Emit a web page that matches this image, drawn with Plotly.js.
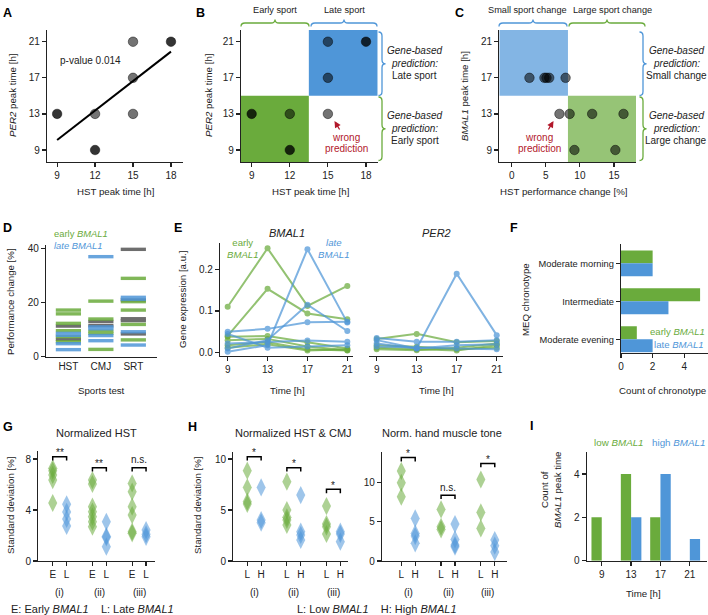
<!DOCTYPE html>
<html><head><meta charset="utf-8">
<script src="https://cdn.plot.ly/plotly-3.0.1.min.js"></script>
<style>html,body{margin:0;padding:0;background:#fff}#chart{width:708px;height:615px}</style>
</head><body><div id="chart"></div>
<script>
// ================= DATA =================
// A / B : peak times (count = overlapping participants)
const hstPeak   = [9, 12, 12, 15, 15, 15, 18];
const per2Peak  = [13, 13, 9, 21, 17, 13, 21];
const peakCount = [2, 1, 2, 1, 1, 1, 2];
const fitX = [9, 18];
const fitY = [10.1, 19.9];
const pValueText = 'p-value 0.014';
// C
const hstChange  = [2.6, 4.8, 5.1, 5.5, 7.9, 7.0, 8.5, 11.8, 16.4, 9.2, 15.2];
const bmal1Peak  = [17, 17, 17, 17, 17, 13, 13, 13, 13, 9, 9];
const changeCount= [1, 1, 1, 1, 1, 1, 1, 1, 1, 1, 1];
// D
const sportTests = ['HST', 'CMJ', 'SRT'];
const dEarlyTest = ['HST','HST','HST','HST','HST','HST','CMJ','CMJ','CMJ','CMJ','CMJ','SRT','SRT','SRT','SRT','SRT'];
const dEarlyVal  = [17.2, 15.8, 12.3, 9.6, 7.4, 5.5, 20.5, 13.9, 9.4, 8.6, 2.7, 28.9, 20.3, 17.2, 11.9, 6.2];
const dLateTest  = ['HST','HST','HST','HST','CMJ','CMJ','CMJ','CMJ','CMJ','SRT','SRT','SRT','SRT'];
const dLateVal   = [8.6, 7.9, 4.8, 2.6, 36.9, 11.0, 10.3, 7.8, 5.9, 21.9, 21.2, 9.2, 4.3];
const dOtherTest = ['HST','HST','CMJ','CMJ','SRT','SRT','SRT','SRT','SRT'];
const dOtherVal  = [11.3, 6.4, 13.0, 11.5, 39.6, 20.9, 14.0, 13.3, 8.4];
// E
const eTimes = [9, 13, 17, 21];
const bmal1Early = [
  [0.110, 0.250, 0.112, 0.160],
  [0.040, 0.153, 0.094, 0.080],
  [0.038, 0.040, 0.025, 0.010],
  [0.030, 0.033, 0.015, 0.006],
  [0.018, 0.025, 0.008, 0.005],
  [0.012, 0.020, 0.005, 0.008]
];
const bmal1Late = [
  [0.002, 0.018, 0.248, 0.072],
  [0.010, 0.030, 0.115, 0.052],
  [0.050, 0.057, 0.073, 0.074],
  [0.022, 0.025, 0.029, 0.026],
  [0.045, 0.012, 0.015, 0.018]
];
const per2Early = [
  [0.033, 0.045, 0.025, 0.028],
  [0.012, 0.008, 0.005, 0.018],
  [0.008, 0.006, 0.012, 0.022],
  [0.018, 0.014, 0.008, 0.012]
];
const per2Late = [
  [0.030, 0.010, 0.189, 0.042],
  [0.035, 0.026, 0.026, 0.030],
  [0.022, 0.010, 0.018, 0.020],
  [0.015, 0.012, 0.010, 0.008]
];
// F
const chronoCats  = ['Moderate evening', 'Intermediate', 'Moderate morning'];
const chronoEarly = [1, 5, 2];
const chronoLate  = [2, 3, 2];
// G  (groups i, ii, iii)
const groupLabels = ['(i)', '(ii)', '(iii)'];
const gEarly = [[7.27, 7.08, 6.75, 6.35, 4.55], [6.35, 6.04, 4.26, 3.87, 3.48, 3.08, 2.69], [6.09, 5.44, 4.26, 3.6, 2.3, 2.17]];
const gLate  = [[4.45, 3.85, 3.3, 2.75], [3.08, 1.95, 1.85, 1.12], [2.43, 2.1, 1.9]];
const gSig   = ['**', '**', 'n.s.'];
// H left: Normalized HST & CMJ
const h1Low  = [[8.86, 7.22, 5.82, 5.59], [7.78, 5.0, 4.28, 4.02, 3.53], [5.39, 3.63, 3.37, 2.65]];
const h1High = [[7.22, 4.02, 3.76], [6.47, 2.88, 2.55, 2.06], [2.88, 2.65, 1.9]];
const h1Sig  = ['*', '*', '*'];
// H right: Norm. hand muscle tone
const h2Low  = [[11.5, 9.98, 8.2], [6.58, 4.37, 4.03], [10.4, 6.2, 4.16]];
const h2High = [[5.44, 3.52, 3.18, 2.25], [4.71, 2.76, 2.04, 1.83], [2.68, 1.95, 1.15]];
const h2Sig  = ['*', 'n.s.', '*'];
// I
const iTimes = [9, 13, 17, 21];
const iLow   = [2, 4, 2, 0];
const iHigh  = [0, 2, 4, 1];

// ================= STYLE / LAYOUT HELPERS =================
const W = 708, H = 615;
const GREEN = '#6aab3c', BLUE = '#4f96d8', RED = '#b2182b', INK = '#222';
const FONT = '"Liberation Sans", Arial, sans-serif';
const TICK = 10, ATITLE = 9.7, SMALL = 10, PTITLE = 11;
const xd = (a, b) => [a / W, b / W];
const yd = (top, bot) => [1 - bot / H, 1 - top / H];
const base = {showline: true, linecolor: INK, linewidth: 1.2, ticks: 'outside', ticklen: 4, tickwidth: 1.2,
  tickcolor: INK, showgrid: false, zeroline: false, tickfont: {size: TICK, color: INK}, fixedrange: true};
const ax = e => Object.assign({}, base, e);
const alphaBlack = c => 'rgba(0,0,0,' + (1 - Math.pow(0.45, c)).toFixed(3) + ')';

const traces = [];
// A
traces.push({type: 'scatter', mode: 'lines', x: fitX, y: fitY, xaxis: 'x', yaxis: 'y', line: {color: '#000', width: 2}, hoverinfo: 'skip'});
traces.push({type: 'scatter', mode: 'markers', x: hstPeak, y: per2Peak, xaxis: 'x', yaxis: 'y',
  marker: {size: 9.5, color: peakCount.map(alphaBlack), line: {color: 'rgba(0,0,0,0.45)', width: 1}}});
// B
traces.push({type: 'scatter', mode: 'markers', x: hstPeak, y: per2Peak, xaxis: 'x2', yaxis: 'y2',
  marker: {size: 9.5, color: peakCount.map(alphaBlack), line: {color: 'rgba(0,0,0,0.45)', width: 1}}});
// C
traces.push({type: 'scatter', mode: 'markers', x: hstChange, y: bmal1Peak, xaxis: 'x3', yaxis: 'y3',
  marker: {size: 9.5, color: changeCount.map(alphaBlack), line: {color: 'rgba(0,0,0,0.45)', width: 1}}});
// D
const dBar = (xs, ys, col) => ({type: 'scatter', mode: 'markers', x: xs, y: ys, xaxis: 'x4', yaxis: 'y4', opacity: 0.85,
  marker: {symbol: 'line-ew', size: 18, line: {color: col, width: 3.4}}});
traces.push(dBar(dOtherTest, dOtherVal, '#555'));
traces.push(dBar(dEarlyTest, dEarlyVal, GREEN));
traces.push(dBar(dLateTest, dLateVal, BLUE));
// E
const eLine = (vals, col, xa) => ({type: 'scatter', mode: 'lines+markers', x: eTimes, y: vals, xaxis: xa, yaxis: 'y5',
  opacity: 0.72, line: {color: col, width: 2}, marker: {color: col, size: 6}});
bmal1Early.forEach(v => traces.push(eLine(v, GREEN, 'x5')));
bmal1Late.forEach(v => traces.push(eLine(v, BLUE, 'x5')));
per2Early.forEach(v => traces.push(eLine(v, GREEN, 'x6')));
per2Late.forEach(v => traces.push(eLine(v, BLUE, 'x6')));
// F
const fPos = chronoCats.map((c, i) => i);
traces.push({type: 'bar', orientation: 'h', y: fPos, x: chronoEarly, xaxis: 'x7', yaxis: 'y7', width: 0.34, offset: 0, marker: {color: GREEN}});
traces.push({type: 'bar', orientation: 'h', y: fPos, x: chronoLate, xaxis: 'x7', yaxis: 'y7', width: 0.34, offset: -0.34, marker: {color: BLUE}});
// G/H diamonds
const DX = 0.175;
function diamonds(groups, shift, col, xa, ya) {
  const xs = [], ys = [];
  groups.forEach((g, gi) => g.forEach(v => { xs.push(gi + shift); ys.push(v); }));
  return {type: 'scatter', mode: 'markers', x: xs, y: ys, xaxis: xa, yaxis: ya,
    marker: {symbol: 'diamond-tall', size: 13, color: col, opacity: 0.55, line: {width: 0}}};
}
traces.push(diamonds(gEarly, -DX, GREEN, 'x8', 'y8'));
traces.push(diamonds(gLate, DX, BLUE, 'x8', 'y8'));
traces.push(diamonds(h1Low, -DX, GREEN, 'x9', 'y9'));
traces.push(diamonds(h1High, DX, BLUE, 'x9', 'y9'));
traces.push(diamonds(h2Low, -DX, GREEN, 'x10', 'y10'));
traces.push(diamonds(h2High, DX, BLUE, 'x10', 'y10'));
// I
traces.push({type: 'bar', x: iTimes, y: iLow, xaxis: 'x11', yaxis: 'y11', width: 1.4, offset: -1.4, marker: {color: GREEN}});
traces.push({type: 'bar', x: iTimes, y: iHigh, xaxis: 'x11', yaxis: 'y11', width: 1.4, offset: 0, marker: {color: BLUE}});

// ================= SHAPES =================
const shapes = [];
const rABx = [8.2, 18.95], rABy = [7.67, 22.3], rCx = [-1.82, 18.23];
const rBx = [8.16, 18.92];
shapes.push({type: 'rect', xref: 'x2', yref: 'y2', x0: rBx[0], x1: 13.5, y0: rABy[0], y1: 15, fillcolor: GREEN, line: {width: 0}, layer: 'below'});
shapes.push({type: 'rect', xref: 'x2', yref: 'y2', x0: 13.5, x1: rBx[1], y0: 15, y1: rABy[1], fillcolor: BLUE, line: {width: 0}, layer: 'below'});
shapes.push({type: 'rect', xref: 'x3', yref: 'y3', x0: rCx[0], x1: 8.25, y0: 15, y1: rABy[1], fillcolor: BLUE, opacity: 0.7, line: {width: 0}, layer: 'below'});
shapes.push({type: 'rect', xref: 'x3', yref: 'y3', x0: 8.25, x1: rCx[1], y0: rABy[0], y1: 15, fillcolor: GREEN, opacity: 0.7, line: {width: 0}, layer: 'below'});

const P = (x, y) => (x / W).toFixed(5) + ',' + (1 - y / H).toFixed(5);
function hBrace(x1, x2, col) {
  const yE = 26.5, yB = 23, yT = 19.5, m = (x1 + x2) / 2, r = 4;
  const d = 'M' + P(x1, yE) + ' Q' + P(x1, yB) + ' ' + P(x1 + r, yB) + ' L' + P(m - r, yB) + ' Q' + P(m, yB) + ' ' + P(m, yT) +
    ' Q' + P(m, yB) + ' ' + P(m + r, yB) + ' L' + P(x2 - r, yB) + ' Q' + P(x2, yB) + ' ' + P(x2, yE);
  return {type: 'path', xref: 'paper', yref: 'paper', path: d, line: {color: col, width: 1.3}};
}
function vBrace(xE, y1, y2, col) {
  const xB = xE + 3.5, xT = xE + 7, m = (y1 + y2) / 2, r = 4;
  const d = 'M' + P(xE, y1) + ' Q' + P(xB, y1) + ' ' + P(xB, y1 + r) + ' L' + P(xB, m - r) + ' Q' + P(xB, m) + ' ' + P(xT, m) +
    ' Q' + P(xB, m) + ' ' + P(xB, m + r) + ' L' + P(xB, y2 - r) + ' Q' + P(xB, y2) + ' ' + P(xE, y2);
  return {type: 'path', xref: 'paper', yref: 'paper', path: d, line: {color: col, width: 1.3}};
}
shapes.push(hBrace(241, 309, GREEN), hBrace(311, 377, BLUE));
shapes.push(hBrace(499, 567, BLUE), hBrace(569, 645, GREEN));
shapes.push(vBrace(378.5, 32, 95.5, BLUE), vBrace(378.5, 97, 160.5, GREEN));
shapes.push(vBrace(639.5, 32, 95.5, BLUE), vBrace(639.5, 97, 160.5, GREEN));

const annotations = [];
function T(text, x, y, o) {
  annotations.push(Object.assign({text: text, x: x / W, y: 1 - y / H, xref: 'paper', yref: 'paper', showarrow: false,
    xanchor: 'center', yanchor: 'middle', font: {size: SMALL, color: INK}}, o || {}));
}
const F = (size, color) => ({font: {size: size, color: color || INK}});
function brackets(sig, yvals, xa, ya, range) {
  const dy = (range[1] - range[0]) * 0.035;
  sig.forEach((s, i) => {
    const x0 = i - DX, x1 = i + DX, y = yvals[i];
    shapes.push({type: 'path', xref: xa, yref: ya, path: 'M' + x0 + ',' + (y - dy) + ' L' + x0 + ',' + y + ' L' + x1 + ',' + y + ' L' + x1 + ',' + (y - dy),
      line: {color: '#000', width: 1.5}});
    annotations.push({text: s, x: i, y: y, xref: xa, yref: ya, showarrow: false, xanchor: 'center', yanchor: 'middle',
      yshift: s === 'n.s.' ? 8 : 4, font: {size: SMALL, color: INK}});
  });
}
const rG = [0, 8.63], rH1 = [0, 10.72], rH2 = [0, 13.95];
brackets(gSig, [8.18, 7.32, 7.32], 'x8', 'y8', rG);
brackets(h1Sig, [10.23, 9.15, 7.03], 'x9', 'y9', rH1);
brackets(h2Sig, [13.2, 8.4, 12.44], 'x10', 'y10', rH2);

// Panel letters
[['A', 1, 13], ['B', 194, 13], ['C', 453, 13], ['D', 1, 228], ['E', 172, 228], ['F', 508, 228], ['G', 1, 427], ['H', 186, 427], ['I', 528, 426]]
  .forEach(p => T('<b>' + p[0] + '</b>', p[1], p[2], {xanchor: 'left', font: {size: 12.5, color: '#000'}}));

// A
T(pValueText, 58, 61, Object.assign({xanchor: 'left'}, F(10)));
T('HST peak time [h]', 115, 191, F(ATITLE));
T('<i>PER2</i> peak time [h]', 12, 96, Object.assign({textangle: -90}, F(ATITLE)));
// B
T('HST peak time [h]', 310, 191, F(ATITLE));
T('<i>PER2</i> peak time [h]', 208, 96, Object.assign({textangle: -90}, F(ATITLE)));
T('Early sport', 275, 10, F(9.2));
T('Late sport', 344, 10, F(9.2));
T('<i>Gene-based</i>', 415, 51); T('<i>prediction:</i>', 415, 64); T('Late sport', 415, 76);
T('<i>Gene-based</i>', 415, 116); T('<i>prediction:</i>', 415, 128); T('Early sport', 415, 140);
T('wrong', 346, 137, F(SMALL, RED)); T('prediction', 346, 148, F(SMALL, RED));
annotations.push({text: '', x: 334.5 / W, y: 1 - 121 / H, xref: 'paper', yref: 'paper', showarrow: true, ax: 6, ay: 10,
  arrowcolor: RED, arrowhead: 2, arrowsize: 1, arrowwidth: 1.3, standoff: 0});
// C
T('HST performance change [%]', 563, 191, F(ATITLE));
T('<i>BMAL1</i> peak time [h]', 464, 96, Object.assign({textangle: -90}, F(ATITLE)));
T('Small sport change', 527, 10, F(9.2));
T('Large sport change', 612, 10, F(9.2));
T('<i>Gene-based</i>', 676, 51); T('<i>prediction:</i>', 676, 64); T('Small change', 676, 76);
T('<i>Gene-based</i>', 676, 116); T('<i>prediction:</i>', 676, 128); T('Large change', 676, 140);
T('wrong', 539, 137, F(SMALL, RED)); T('prediction', 539, 148, F(SMALL, RED));
annotations.push({text: '', x: 553.5 / W, y: 1 - 121 / H, xref: 'paper', yref: 'paper', showarrow: true, ax: -6, ay: 10,
  arrowcolor: RED, arrowhead: 2, arrowsize: 1, arrowwidth: 1.3, standoff: 0});
// D
T('early <i>BMAL1</i>', 52, 233, Object.assign({xanchor: 'left'}, F(9.4, GREEN)));
T('<i>late BMAL1</i>', 52, 245, Object.assign({xanchor: 'left'}, F(9.4, BLUE)));
T('Performance change [%]', 11, 302, Object.assign({textangle: -90}, F(ATITLE)));
T('Sports test', 101, 390, F(ATITLE));
// E
T('<i>BMAL1</i>', 287, 233, F(PTITLE));
T('<i>PER2</i>', 437, 233, F(PTITLE));
T('early<br><i>BMAL1</i>', 243, 248, F(9.6, GREEN));
T('<i>late</i><br><i>BMAL1</i>', 333, 248, F(9.6, BLUE));
T('Gene expression [a.u.]', 182, 300, Object.assign({textangle: -90}, F(ATITLE)));
T('Time [h]', 287, 390, F(ATITLE));
T('Time [h]', 436, 390, F(ATITLE));
// F
T('MEQ chronotype', 525, 300, Object.assign({textangle: -90}, F(ATITLE)));
T('Count of chronotype', 662, 390, F(ATITLE));
T('early <i>BMAL1</i>', 648, 331, Object.assign({xanchor: 'left'}, F(9.6, GREEN)));
T('late <i>BMAL1</i>', 652, 344, Object.assign({xanchor: 'left'}, F(9.6, BLUE)));
// G
T('Normalized HST', 96, 433, F(PTITLE));
T('Standard deviation [%]', 10, 506, Object.assign({textangle: -90}, F(ATITLE)));
T('E: Early <i>BMAL1</i>    L: Late <i>BMAL1</i>', 92, 609, F(11));
// H
T('Normalized HST &amp; CMJ', 293, 433, F(PTITLE));
T('Norm. hand muscle tone', 442, 433, F(PTITLE));
T('Standard deviation [%]', 197, 506, Object.assign({textangle: -90}, F(ATITLE)));
T('L: Low <i>BMAL1</i>    H: High <i>BMAL1</i>', 377, 609, F(11));
// group labels
['x8', 'x9', 'x10'].forEach(a => groupLabels.forEach((g, i) =>
  annotations.push({text: g, x: i, y: 1 - 592 / H, xref: a, yref: 'paper', showarrow: false, xanchor: 'center', yanchor: 'middle', font: {size: TICK, color: INK}})));
// I
T('low <i>BMAL1</i>', 592, 442, Object.assign({xanchor: 'left'}, F(9.8, GREEN)));
T('high <i>BMAL1</i>', 650, 442, Object.assign({xanchor: 'left'}, F(9.8, BLUE)));
T('Count of<br><i>BMAL1</i> peak time', 551, 490, Object.assign({textangle: -90}, F(ATITLE)));
T('Time [h]', 643, 593, F(ATITLE));

const gTicks = [-DX, DX, 1 - DX, 1 + DX, 2 - DX, 2 + DX];
const layout = {
  width: W, height: H, margin: {l: 0, r: 0, t: 0, b: 0}, paper_bgcolor: '#fff', plot_bgcolor: 'rgba(0,0,0,0)',
  showlegend: false, font: {family: FONT, size: TICK, color: INK}, barmode: 'overlay',
  xaxis:  ax({domain: xd(47, 183), range: rABx, tickvals: [9, 12, 15, 18], anchor: 'y'}),
  yaxis:  ax({domain: yd(30, 162), range: rABy, tickvals: [9, 13, 17, 21], anchor: 'x'}),
  xaxis2: ax({domain: xd(241, 377.7), range: rBx, tickvals: [9, 12, 15, 18], anchor: 'y2'}),
  yaxis2: ax({domain: yd(30, 162), range: rABy, tickvals: [9, 13, 17, 21], anchor: 'x2'}),
  xaxis3: ax({domain: xd(499.3, 636), range: rCx, tickvals: [0, 5, 10, 15], anchor: 'y3'}),
  yaxis3: ax({domain: yd(30, 162), range: rABy, tickvals: [9, 13, 17, 21], anchor: 'x3'}),
  xaxis4: ax({domain: xd(46, 156.7), type: 'category', categoryorder: 'array', categoryarray: sportTests, range: [-0.69, 2.72], anchor: 'y4', ticks: ''}),
  yaxis4: ax({domain: yd(245, 356.7), range: [0, 41.2], tickvals: [0, 20, 40], anchor: 'x4'}),
  xaxis5: ax({domain: xd(220, 353.3), range: [8.23, 21.6], tickvals: eTimes, anchor: 'y5'}),
  yaxis5: ax({domain: yd(243.3, 356), range: [-0.008, 0.262], tickvals: [0, 0.1, 0.2], tickformat: '.1f', anchor: 'x5'}),
  xaxis6: ax({domain: xd(369.3, 503.3), range: [8.26, 21.66], tickvals: eTimes, anchor: 'y5'}),
  xaxis7: ax({domain: xd(621, 708), range: [0, 5.5], tickvals: [0, 2, 4], anchor: 'y7'}),
  yaxis7: ax({domain: yd(244.3, 352.7), range: [-0.353, 2.5], tickvals: fPos, ticktext: chronoCats, anchor: 'x7', tickfont: {size: 9.3, color: INK}}),
  xaxis8: ax({domain: xd(38.3, 155), range: [-0.538, 2.4], tickvals: gTicks, ticktext: ['E', 'L', 'E', 'L', 'E', 'L'], anchor: 'y8'}),
  yaxis8: ax({domain: yd(451, 561), range: rG, tickvals: [0, 4, 8], anchor: 'x8'}),
  xaxis9: ax({domain: xd(233.3, 348.3), range: [-0.528, 2.376], tickvals: gTicks, ticktext: ['L', 'H', 'L', 'H', 'L', 'H'], anchor: 'y9'}),
  yaxis9: ax({domain: yd(451.7, 561), range: rH1, tickvals: [0, 5, 10], anchor: 'x9'}),
  xaxis10: ax({domain: xd(382, 506.7), range: [-0.66, 2.475], tickvals: gTicks, ticktext: ['L', 'H', 'L', 'H', 'L', 'H'], anchor: 'y10'}),
  yaxis10: ax({domain: yd(451.7, 561), range: rH2, tickvals: [0, 5, 10], anchor: 'x10'}),
  xaxis11: ax({domain: xd(586.7, 706.7), range: [6.95, 23.3], tickvals: iTimes, anchor: 'y11'}),
  yaxis11: ax({domain: yd(451.7, 560.7), range: [0, 5.03], tickvals: [0, 2, 4], anchor: 'x11'}),
  shapes: shapes, annotations: annotations
};
Plotly.newPlot('chart', traces, layout, {staticPlot: true, displayModeBar: false});
</script></body></html>
